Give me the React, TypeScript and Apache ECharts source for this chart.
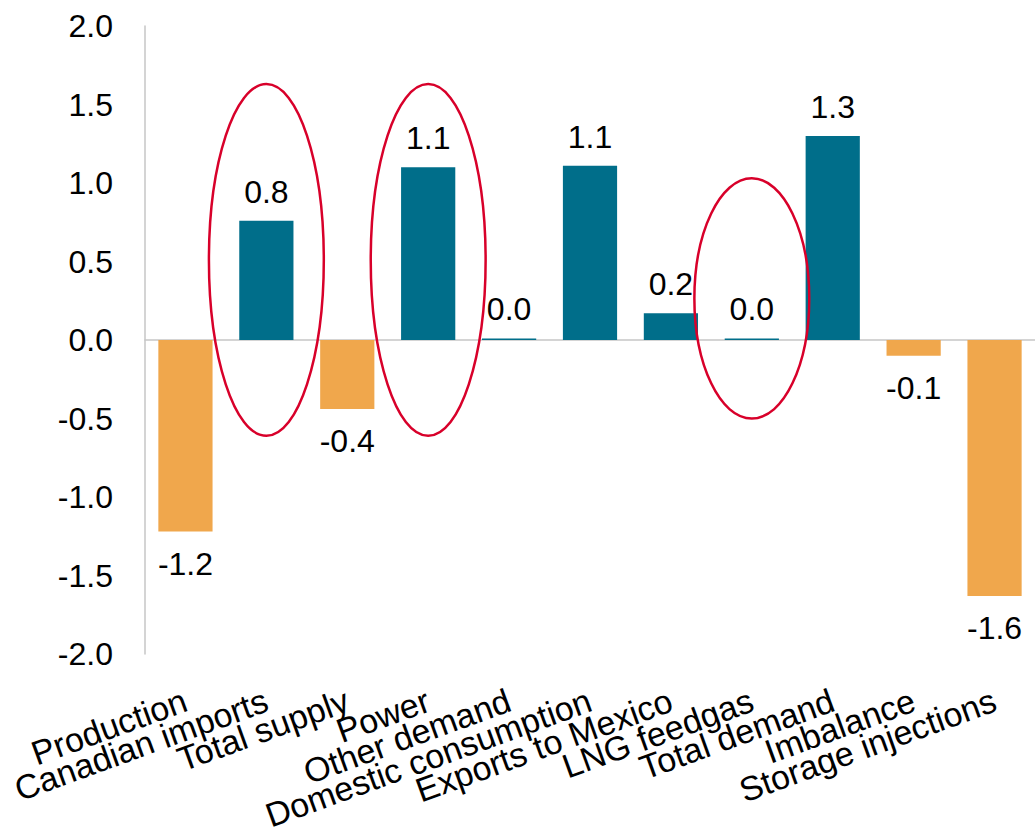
import React, { useEffect, useRef } from "react";
import * as echarts from "echarts";

const categories = [
  "Production",
  "Canadian imports",
  "Total supply",
  "Power",
  "Other demand",
  "Domestic consumption",
  "Exports to Mexico",
  "LNG feedgas",
  "Total demand",
  "Imbalance",
  "Storage injections",
];

const changes = [-1.22, 0.76, -0.44, 1.1, 0.01, 1.11, 0.17, 0.01, 1.3, -0.1, -1.63];

const yTicks = { min: -2, max: 2, interval: 0.5 };

// Highlighted categories, with the value span each ring covers
const highlights = [
  { category: "Canadian imports", top: 1.63, bottom: -0.61 },
  { category: "Power", top: 1.63, bottom: -0.61 },
  { category: "LNG feedgas", top: 1.03, bottom: -0.5 },
];

const POS_COLOR = "#006e8a";
const NEG_COLOR = "#f0a74c";
const RING_COLOR = "#d8002a";
const FONT = "'Liberation Sans', Arial, sans-serif";

export default function App() {
  const ref = useRef<HTMLDivElement>(null);

  useEffect(() => {
    if (!ref.current) return;
    const chart = echarts.init(ref.current, null, { renderer: "svg" });

    chart.setOption({
      animation: false,
      grid: { left: 145, right: 0, top: 26, bottom: 181, containLabel: false },
      xAxis: {
        type: "category",
        data: categories,
        axisLine: { show: true, onZero: true, lineStyle: { color: "#c6c6c6", width: 1.5 } },
        axisTick: { show: false },
        axisLabel: {
          interval: 0,
          rotate: 20,
          margin: 45,
          fontSize: 34,
          fontFamily: FONT,
          color: "#000",
          hideOverlap: false,
        },
      },
      yAxis: {
        type: "value",
        min: yTicks.min,
        max: yTicks.max,
        interval: yTicks.interval,
        axisLine: { show: true, lineStyle: { color: "#c6c6c6", width: 1.5 } },
        axisTick: { show: false },
        splitLine: { show: false },
        axisLabel: {
          margin: 32,
          fontSize: 32,
          fontFamily: FONT,
          color: "#000",
          formatter: (v: number) => v.toFixed(1),
        },
      },
      series: [
        {
          type: "bar",
          barWidth: "67%",
          data: changes.map((v) => ({
            value: v,
            itemStyle: { color: v >= 0 ? POS_COLOR : NEG_COLOR },
            label: {
              show: true,
              position: v >= 0 ? "top" : "bottom",
              distance: v >= 0 ? 13 : 16,
              fontSize: 32,
              fontFamily: FONT,
              color: "#000",
              formatter: () => v.toFixed(1),
            },
          })),
        },
      ],
    });

    // Rings drawn around highlighted bars, sized from the axis scales
    const band =
      (chart.convertToPixel({ xAxisIndex: 0 }, categories[1]) as number) -
      (chart.convertToPixel({ xAxisIndex: 0 }, categories[0]) as number);
    const rings = highlights.map((h) => {
      const cx = chart.convertToPixel({ xAxisIndex: 0 }, h.category) as number;
      const yTop = chart.convertToPixel({ yAxisIndex: 0 }, h.top) as number;
      const yBottom = chart.convertToPixel({ yAxisIndex: 0 }, h.bottom) as number;
      return {
        type: "ellipse",
        shape: {
          cx,
          cy: (yTop + yBottom) / 2,
          rx: band * 0.71,
          ry: (yBottom - yTop) / 2,
        },
        style: { fill: "none", stroke: RING_COLOR, lineWidth: 2.5 },
        z: 10,
      };
    });
    chart.setOption({ graphic: rings });

    return () => chart.dispose();
  }, []);

  return (
    <div
      ref={ref}
      style={{ position: "absolute", left: 0, top: 0, width: 1035, height: 835, background: "#fff" }}
    />
  );
}
